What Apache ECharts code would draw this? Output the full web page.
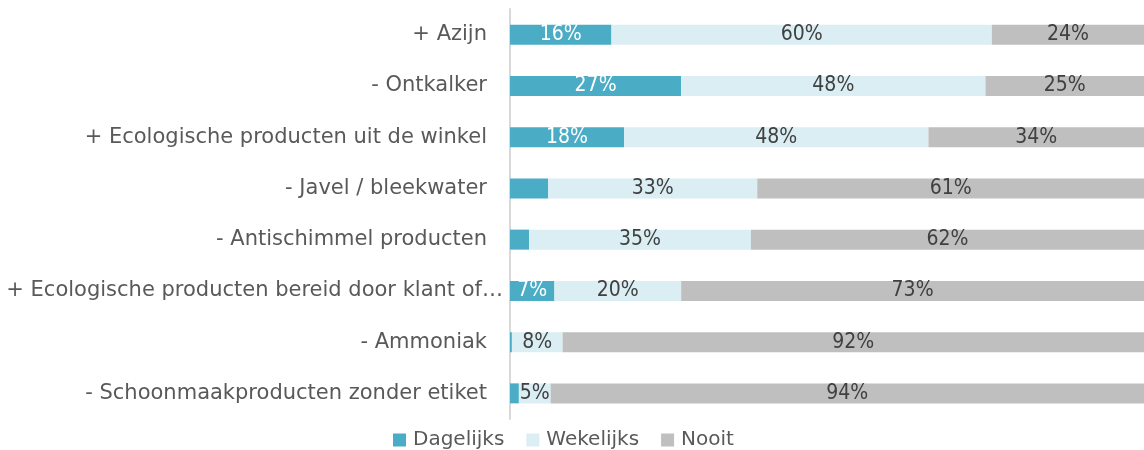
<!DOCTYPE html>
<html>
<head>
<meta charset="utf-8">
<script src="https://cdn.jsdelivr.net/npm/echarts@6/dist/echarts.min.js"></script>
<style>
  html, body { margin: 0; padding: 0; background: #fff; }
  #chart { width: 1144px; height: 450px; }
</style>
</head>
<body>
<div id="chart"></div>
<script>
// categories, top to bottom (zoals in de grafiek, label afgekort)
const categories = [
  '+ Azijn',
  '- Ontkalker',
  '+ Ecologische producten uit de winkel',
  '- Javel / bleekwater',
  '- Antischimmel producten',
  '+ Ecologische producten bereid door klant of…',
  '- Ammoniak',
  '- Schoonmaakproducten zonder etiket'
];
const dagelijks = [16, 27, 18, 6, 3, 7, 0.3, 1.4];
const wekelijks = [60, 48, 48, 33, 35, 20, 8, 5];
const nooit = [24, 25, 34, 61, 62, 73, 92, 94];

// labels voor Dagelijks enkel vanaf deze waarde
const minLabel = 7;

const font = '"DejaVu Sans", Tahoma, sans-serif';
const fontSmall = '"DejaVu Sans Condensed", "DejaVu Sans", Tahoma, sans-serif';

let myChart = echarts.init(document.getElementById('chart'));

function serie(name, data, color, textColor) {
  return {
    name: name,
    type: 'bar',
    stack: 'totaal',
    data: data,
    barWidth: 20,
    itemStyle: { color: color },
    label: {
      show: true,
      position: 'inside',
      color: textColor,
      fontFamily: fontSmall,
      fontSize: 21,
      formatter: function (p) {
        return p.value >= minLabel || name !== 'Dagelijks' ? Math.round(p.value) + '%' : '';
      }
    },
    emphasis: { disabled: true }
  };
}

let option = {
  animation: false,
  grid: { left: 510, right: 0, top: 9, bottom: 31, containLabel: false, outerBoundsMode: 'none' },
  legend: {
    left: 388,
    top: 425,
    itemWidth: 13,
    itemHeight: 13,
    itemGap: 22,
    icon: 'rect',
    textStyle: { color: '#595959', fontFamily: font, fontSize: 20, padding: [0, 0, 0, 2] },
    data: ['Dagelijks', 'Wekelijks', 'Nooit']
  },
  xAxis: {
    type: 'value',
    min: 0,
    max: 100,
    show: false
  },
  yAxis: {
    type: 'category',
    inverse: true,
    data: categories,
    axisTick: { show: false },
    axisLine: { lineStyle: { color: '#D9D9D9', width: 2 } },
    axisLabel: {
      color: '#595959',
      fontFamily: font,
      fontSize: 21,
      margin: 23,
      // het afgekorte label loopt in het origineel wat verder door
      formatter: function (v) {
        return v.endsWith('…') ? '{lang|' + v + '}' : v;
      },
      rich: {
        lang: { color: '#595959', fontFamily: font, fontSize: 21, padding: [0, -16, 0, 0] }
      }
    }
  },
  series: [
    serie('Dagelijks', dagelijks, '#4BACC6', '#ffffff'),
    serie('Wekelijks', wekelijks, '#DAEEF3', '#404040'),
    serie('Nooit', nooit, '#BFBFBF', '#404040')
  ]
};

myChart.setOption(option);
</script>
</body>
</html>
